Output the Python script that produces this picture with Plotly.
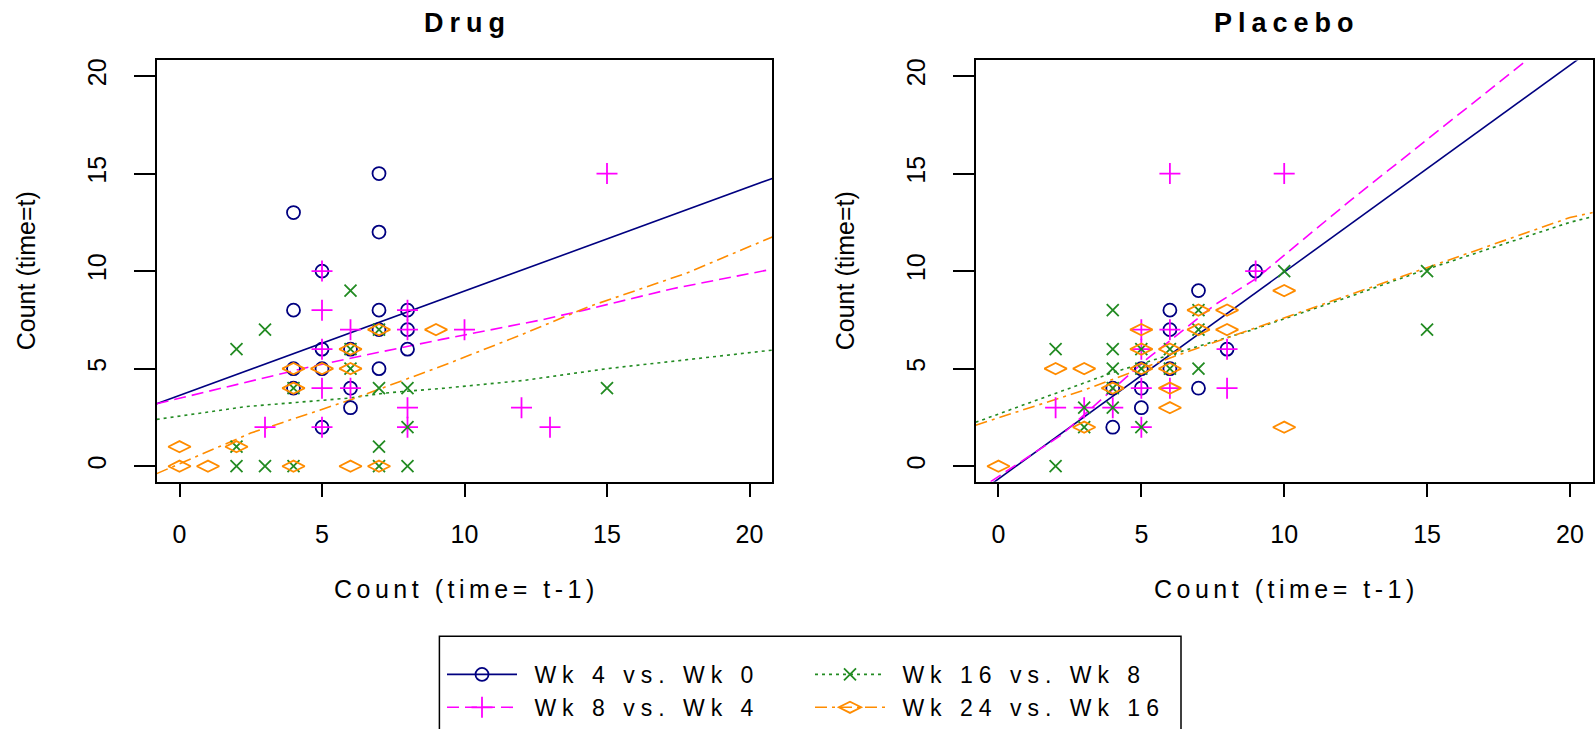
import plotly.graph_objects as go

# ---------------- data ----------------
series_names = ["Wk 4 vs. Wk 0", "Wk 8 vs. Wk 4", "Wk 16 vs. Wk 8", "Wk 24 vs. Wk 16"]

# Drug panel points
drug_wk4_x = [7, 4, 7, 5, 4, 7, 8, 7, 8, 5, 6, 8, 4, 5, 7, 4, 6, 6, 5]
drug_wk4_y = [15, 13, 12, 10, 8, 8, 8, 7, 7, 6, 6, 6, 5, 5, 5, 4, 4, 3, 2]
drug_wk8_x = [15, 5, 5, 8, 6, 8, 10, 5, 5, 6, 8, 8, 3, 12, 13, 5]
drug_wk8_y = [15, 10, 8, 8, 7, 7, 7, 6, 4, 4, 3, 2, 2, 3, 2, 2]
drug_wk16_x = [6, 3, 7, 2, 6, 6, 4, 7, 8, 15, 8, 2, 7, 2, 3, 4, 7, 8]
drug_wk16_y = [9, 7, 7, 6, 6, 5, 4, 4, 4, 4, 2, 1, 1, 0, 0, 0, 0, 0]
drug_wk24_x = [7, 9, 6, 4, 5, 6, 4, 0, 2, 0, 1, 4, 6, 7]
drug_wk24_y = [7, 7, 6, 5, 5, 5, 4, 1, 1, 0, 0, 0, 0, 0]

# Drug panel fitted curves
drug_fit_wk4_x = [-0.8, 20.8]
drug_fit_wk4_y = [3.2, 14.75]
drug_fit_wk8_x = [-0.8, 4.6, 7.2, 9.2, 12.7, 14.2, 17.3, 20.8]
drug_fit_wk8_y = [3.2, 5.1, 5.9, 6.5, 7.5, 8.0, 9.1, 10.1]
drug_fit_wk16_x = [-0.8, 2.3, 6.0, 7.2, 9.3, 12.1, 15.0, 18.3, 20.8]
drug_fit_wk16_y = [2.4, 3.05, 3.5, 3.75, 4.0, 4.4, 5.0, 5.55, 5.95]
drug_fit_wk24_x = [-0.8, 2.5, 6.0, 9.5, 12.1, 14.4, 17.8, 20.8]
drug_fit_wk24_y = [-0.38, 1.7, 3.4, 5.3, 6.8, 8.2, 9.9, 11.75]

# Placebo panel points
plac_wk4_x = [9, 7, 6, 6, 8, 5, 6, 4, 5, 7, 5, 4]
plac_wk4_y = [10, 9, 8, 7, 6, 5, 5, 4, 4, 4, 3, 2]
plac_wk8_x = [6, 10, 9, 6, 5, 8, 5, 5, 6, 8, 2, 3, 4, 5]
plac_wk8_y = [15, 15, 10, 7, 7, 6, 6, 4, 4, 4, 3, 3, 3, 2]
plac_wk16_x = [4, 7, 7, 2, 4, 5, 6, 4, 5, 6, 7, 4, 3, 4, 3, 5, 2, 10, 15, 15]
plac_wk16_y = [8, 8, 7, 6, 6, 6, 6, 5, 5, 5, 5, 4, 3, 3, 2, 2, 0, 10, 10, 7]
plac_wk24_x = [7, 8, 5, 7, 8, 5, 6, 2, 3, 5, 6, 4, 6, 6, 3, 0, 10, 10]
plac_wk24_y = [8, 8, 7, 7, 7, 6, 6, 5, 5, 5, 5, 4, 4, 3, 2, 0, 9, 2]

# Placebo panel fitted curves
plac_fit_wk4_x = [-0.8, 20.8]
plac_fit_wk4_y = [-1.5, 21.4]
plac_fit_wk8_x = [-0.8, 2.2, 5.2, 7.6, 9.0, 12.3, 18.4, 20.8]
plac_fit_wk8_y = [-1.3, 1.6, 5.5, 8.3, 9.6, 13.6, 20.7, 23.5]
plac_fit_wk16_x = [-0.8, 4.0, 6.1, 8.8, 12.3, 15.0, 20.0, 20.8]
plac_fit_wk16_y = [2.25, 4.8, 5.75, 6.95, 8.7, 10.1, 12.5, 12.8]
plac_fit_wk24_x = [-0.8, 3.0, 6.1, 9.2, 12.3, 15.0, 20.0, 20.8]
plac_fit_wk24_y = [2.1, 3.9, 5.6, 7.2, 8.8, 10.2, 12.75, 13.0]

tick_vals = [0, 5, 10, 15, 20]
tick_text = ["0", "5", "10", "15", "20"]

# ---------------- styles ----------------
colors = ["#000080", "#FF00FF", "#228B22", "#FF8C00"]
symbols = ["circle-open", "cross-thin-open", "x-thin-open", "diamond-wide-open"]
msizes = [13, 15, 12, 16]
dashes = ["solid", "12px,6px", "3px,4px", "12px,5px,3px,5px"]
FONT = "Liberation Sans, Arial, Helvetica, sans-serif"

W, H = 1595, 729
def px_x(p):
    return p / W
def px_y(p):
    return 1 - p / H

drug_pts = [(drug_wk4_x, drug_wk4_y), (drug_wk8_x, drug_wk8_y),
            (drug_wk16_x, drug_wk16_y), (drug_wk24_x, drug_wk24_y)]
drug_fit = [(drug_fit_wk4_x, drug_fit_wk4_y), (drug_fit_wk8_x, drug_fit_wk8_y),
            (drug_fit_wk16_x, drug_fit_wk16_y), (drug_fit_wk24_x, drug_fit_wk24_y)]
plac_pts = [(plac_wk4_x, plac_wk4_y), (plac_wk8_x, plac_wk8_y),
            (plac_wk16_x, plac_wk16_y), (plac_wk24_x, plac_wk24_y)]
plac_fit = [(plac_fit_wk4_x, plac_fit_wk4_y), (plac_fit_wk8_x, plac_fit_wk8_y),
            (plac_fit_wk16_x, plac_fit_wk16_y), (plac_fit_wk24_x, plac_fit_wk24_y)]

fig = go.Figure()

for panel, (pts, fits, xa, ya) in enumerate([(drug_pts, drug_fit, "x", "y"),
                                             (plac_pts, plac_fit, "x2", "y2")]):
    for i in range(4):
        fx, fy = fits[i]
        fig.add_trace(go.Scatter(x=fx, y=fy, mode="lines", xaxis=xa, yaxis=ya,
                                 line=dict(color=colors[i], width=1.6, dash=dashes[i]),
                                 showlegend=False, hoverinfo="skip"))
    for i in range(4):
        px_, py_ = pts[i]
        fig.add_trace(go.Scatter(x=px_, y=py_, mode="markers", xaxis=xa, yaxis=ya,
                                 marker=dict(symbol=symbols[i], size=msizes[i],
                                             color=colors[i], line=dict(width=1.8, color=colors[i])),
                                 name=series_names[i], showlegend=False))

# legend-only entries (two columns)
legend_of = ["legend", "legend", "legend2", "legend2"]
for i in range(4):
    fig.add_trace(go.Scatter(x=[None], y=[None], mode="lines+markers", xaxis="x", yaxis="y",
                             line=dict(color=colors[i], width=1.6, dash=dashes[i]),
                             marker=dict(symbol=symbols[i], size=msizes[i], color=colors[i],
                                         line=dict(width=1.8, color=colors[i])),
                             name='<span style="letter-spacing:6px">\u00a0' + series_names[i] + '</span>',
                             legend=legend_of[i], showlegend=True))

# axes geometry (pixels)
drug_l, drug_r = 156.7, 772.3
plac_l, plac_r = 975.6, 1592.8
top_px, bot_px = 59.2, 486.5

axis_common = dict(range=[-0.8, 20.8], showgrid=False, zeroline=False, showline=True,
                   mirror=True, linecolor="black", linewidth=1.5, ticks="outside",
                   tickcolor="black", tickwidth=1.5, tickvals=tick_vals, ticktext=tick_text,
                   tickfont=dict(family=FONT, size=25, color="black"))
xcommon = dict(axis_common, ticklen=13, ticklabelstandoff=16)
ycommon = dict(axis_common, ticklen=21, tickangle=-90, ticklabelstandoff=18)

fig.update_layout(
    width=W, height=H, autosize=False,
    margin=dict(l=0, r=0, t=0, b=0),
    paper_bgcolor="white", plot_bgcolor="white",
    font=dict(family=FONT, color="black"),
    xaxis=dict(xcommon, domain=[px_x(drug_l), px_x(drug_r)], anchor="y"),
    yaxis=dict(ycommon, domain=[px_y(bot_px), px_y(top_px)], anchor="x"),
    xaxis2=dict(xcommon, domain=[px_x(plac_l), px_x(plac_r)], anchor="y2"),
    yaxis2=dict(ycommon, domain=[px_y(bot_px), px_y(top_px)], anchor="x2"),
    legend=dict(x=px_x(442), y=px_y(660), xanchor="left", yanchor="top",
                orientation="v", itemwidth=70, borderwidth=0, bgcolor="rgba(0,0,0,0)",
                font=dict(family=FONT, size=23, color="black"), tracegroupgap=0),
    legend2=dict(x=px_x(810), y=px_y(660), xanchor="left", yanchor="top",
                 orientation="v", itemwidth=70, borderwidth=0, bgcolor="rgba(0,0,0,0)",
                 font=dict(family=FONT, size=23, color="black"), tracegroupgap=0),
    shapes=[dict(type="rect", xref="paper", yref="paper",
                 x0=px_x(439.4), x1=px_x(1181), y0=px_y(760), y1=px_y(643),
                 line=dict(color="black", width=1.5), fillcolor="rgba(0,0,0,0)")],
)

annots = []
for cx, title in [((drug_l + drug_r) / 2, "Drug"), ((plac_l + plac_r) / 2, "Placebo")]:
    annots.append(dict(text='<span style="letter-spacing:6px"><b>' + title + '</b></span>',
                       x=px_x(cx + 3), y=px_y(21), xref="paper", yref="paper",
                       showarrow=False, xanchor="center", yanchor="middle",
                       font=dict(family=FONT, size=27, color="black")))
    annots.append(dict(text='<span style="letter-spacing:4.5px">Count (time= t-1)</span>',
                       x=px_x(cx + 2), y=px_y(595), xref="paper", yref="paper",
                       showarrow=False, xanchor="center", yanchor="middle",
                       font=dict(family=FONT, size=25, color="black")))
for lx in [26, 845]:
    annots.append(dict(text="Count (time=t)", x=px_x(lx), y=px_y(273), xref="paper", yref="paper",
                       showarrow=False, xanchor="center", yanchor="middle", textangle=-90,
                       font=dict(family=FONT, size=25, color="black")))
fig.update_layout(annotations=annots)

fig.write_html("out.html")
